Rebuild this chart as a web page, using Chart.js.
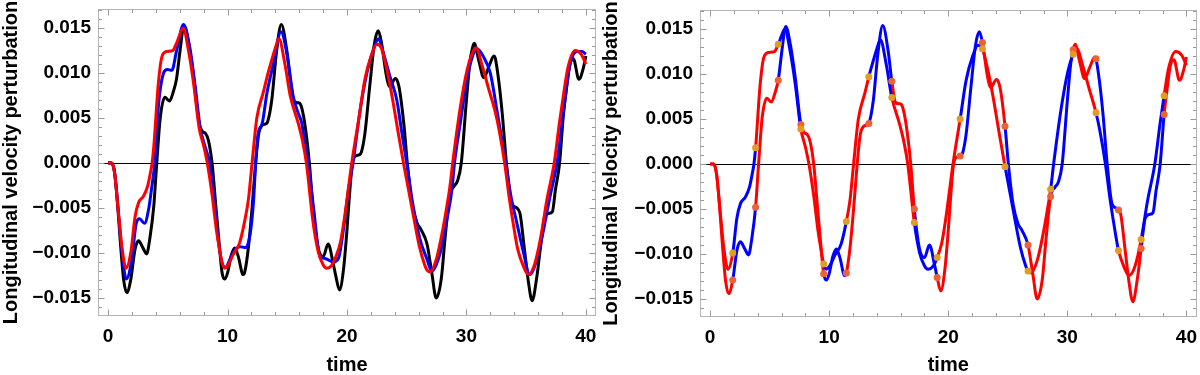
<!DOCTYPE html>
<html><head><meta charset="utf-8">
<script src="https://cdn.jsdelivr.net/npm/chart.js@4.4.1/dist/chart.umd.min.js"></script>
<style>
html,body{margin:0;padding:0;background:#fff;}
#wrap{position:relative;width:1200px;height:375px;overflow:hidden;}
canvas{position:absolute;top:0;}
</style></head><body>
<div id="wrap">
<canvas id="c1" width="600" height="375" style="left:0px"></canvas>
<canvas id="c2" width="600" height="375" style="left:600px"></canvas>
</div>
<script>
// ---------- data ----------
const tBlack = [0,0.3,0.55,0.8,1.05,1.3,1.56,1.9,2.25,2.55,2.9,3.22,3.5,3.82,4.07,4.36,4.75,5.15,5.45,5.72,6.03,6.35,6.75,7.15,7.62,7.9,8.15,8.4,8.7,9.0,9.3,9.54,9.75,10.0,10.3,10.6,10.9,11.3,11.44,11.75,12.05,12.35,12.6,12.9,13.2,13.33,13.7,14.1,14.5,14.95,15.26,15.6,15.95,16.15,16.45,16.85,17.15,17.6,18.0,18.42,18.85,19.07,19.37,19.7,20.0,20.2,20.45,20.75,21.0,21.2,21.5,21.9,22.3,22.62,22.87,23.3,23.57,24.05,24.35,24.77,25.05,25.45,25.85,26.2,26.7,27.1,27.47,27.9,28.2,28.6,28.95,29.25,29.57,30.0,30.3,30.49,30.65,31.05,31.45,31.9,32.3,32.41,32.7,33.0,33.35,33.75,34.1,34.3,34.5,34.85,35.2,35.5,35.9,36.2,36.55,36.9,37.2,37.45,37.8,38.13,38.35,38.65,38.95,39.42,39.8,40.0];
const vBlack = [0,0,-0.0012,-0.0048,-0.0093,-0.0130,-0.0144,-0.0129,-0.0096,-0.00865,-0.0094,-0.0101,-0.0083,-0.0048,0,0.0050,0.0073,0.0069,0.0079,0.0093,0.0126,0.0153,0.0132,0.0096,0.0044,0.0035,0.0033,0.0025,0,-0.0045,-0.0090,-0.0122,-0.0129,-0.0122,-0.0103,-0.00945,-0.0104,-0.0124,-0.0121,-0.0093,-0.0050,0,0.0032,0.0042,0.00435,0.0045,0.0070,0.0124,0.0154,0.0126,0.0092,0.0068,0.0067,0.0064,0.0045,0,-0.0050,-0.0095,-0.0104,-0.0090,-0.0112,-0.0126,-0.0141,-0.0119,-0.0074,-0.0037,0,0.0008,0.0009,0.0012,0.0033,0.0085,0.0133,0.0147,0.0135,0.0097,0.0085,0.0094,0.0085,0.0042,0,-0.0045,-0.0066,-0.0074,-0.0090,-0.0122,-0.0150,-0.0128,-0.0085,-0.0036,-0.0026,-0.0020,0,0.0070,0.0113,0.0127,0.0133,0.0113,0.0095,0.0108,0.0119,0.0117,0.0092,0.0055,0,-0.0044,-0.0049,-0.0051,-0.0057,-0.0095,-0.0133,-0.0153,-0.0126,-0.0094,-0.0060,-0.0056,-0.0054,-0.0030,0,0.0055,0.0080,0.0109,0.0116,0.0093,0.0106,0.0119];

const tBlue = [0,0.3,0.55,0.85,1.15,1.52,1.98,2.35,2.63,3.05,3.38,3.66,3.9,4.22,4.64,4.95,5.33,5.75,6.31,6.87,7.29,7.71,8.1,8.5,8.9,9.3,9.8,10.3,10.64,11.06,11.5,11.9,12.18,12.35,12.55,12.9,13.3,13.85,14.47,15.0,15.48,15.9,16.2,16.5,16.75,17.2,17.74,18.15,18.86,19.28,19.7,20.12,20.5,21.1,21.66,22.2,22.64,23.05,23.6,24.17,24.6,25.0,25.5,26.12,26.7,27.1,27.8,28.36,28.78,29.0,29.48,30.04,30.6,30.88,31.43,32.0,32.55,33.1,33.3,33.7,34.23,34.79,35.29,35.9,36.46,37.0,37.58,38.14,38.7,39.26,39.68,40.0];
const vBlue = [0,0,-0.0011,-0.0053,-0.0098,-0.0129,-0.0107,-0.0067,-0.0062,-0.0067,-0.0052,-0.0026,0,0.0065,0.0100,0.0104,0.0103,0.0126,0.0154,0.0126,0.0085,0.0039,0.0019,0,-0.0043,-0.0094,-0.0116,-0.0104,-0.0096,-0.0093,-0.0094,-0.0078,-0.0041,0,0.0032,0.0044,0.0078,0.0111,0.0146,0.0119,0.0075,0.0056,0.0045,0.0020,0,-0.0050,-0.0104,-0.0106,-0.0110,-0.0106,-0.0074,-0.0030,0,0.0059,0.0100,0.0126,0.0138,0.0122,0.0096,0.0070,0.0033,0,-0.0045,-0.0085,-0.0107,-0.0120,-0.0100,-0.0063,-0.0030,0,0.0044,0.0093,0.0122,0.0127,0.0118,0.0100,0.0059,0.0015,0,-0.0035,-0.0067,-0.0100,-0.0124,-0.0107,-0.0074,-0.0037,0,0.0059,0.0111,0.0124,0.0124,0.0121];

const tRed = [0,0.3,0.55,0.85,1.15,1.5,1.9,2.25,2.55,2.95,3.3,3.55,3.68,3.82,4.2,4.5,4.9,5.4,5.72,5.95,6.28,6.7,7.15,7.62,8.0,8.3,8.7,9.05,9.35,9.54,9.75,10.0,10.5,11.0,11.44,11.75,12.05,12.45,13.0,13.33,13.6,14.0,14.3,14.8,15.26,15.9,16.3,16.6,17.15,17.6,18.0,18.3,18.7,19.07,19.45,19.8,20.1,20.4,21.0,21.5,22.05,22.5,22.87,23.3,23.8,24.27,24.77,25.1,25.55,26.05,26.5,26.7,26.95,27.5,28.05,28.4,28.6,28.85,29.5,30.05,30.49,30.8,31.3,31.85,32.41,32.75,33.2,33.6,34.0,34.3,34.75,35.18,35.7,36.2,36.75,37.35,37.8,38.13,38.5,39.1,39.6,40.0];
const vRed = [0,0,-0.0012,-0.0054,-0.0093,-0.0117,-0.0099,-0.0060,-0.0044,-0.0037,-0.0026,-0.0010,0,0.0018,0.0088,0.0118,0.0124,0.0125,0.0133,0.0141,0.0150,0.0127,0.0089,0.0039,0.0019,0,-0.0035,-0.0073,-0.0098,-0.0111,-0.0117,-0.0114,-0.0101,-0.0089,-0.0064,-0.0040,0,0.0050,0.0079,0.0097,0.0110,0.0128,0.0138,0.0110,0.0074,0.0045,0.0023,0,-0.0065,-0.0099,-0.0113,-0.0117,-0.0114,-0.0104,-0.0088,-0.0060,-0.0030,0,0.0050,0.0093,0.0120,0.0132,0.0128,0.0106,0.0072,0.0035,-0.0003,-0.0026,-0.0058,-0.0092,-0.0113,-0.0119,-0.0121,-0.0106,-0.0072,-0.0045,-0.0028,0,0.0063,0.0103,0.0122,0.0128,0.0109,0.0083,0.0057,0.0036,0,-0.0040,-0.0074,-0.0096,-0.0114,-0.0124,-0.0113,-0.0084,-0.0040,0,0.0046,0.0076,0.0106,0.0125,0.0121,0.0110];

// times where the right-hand curves change colour (marked by dots)
const switchTimes = [1.9,3.82,5.72,7.62,9.54,11.44,13.33,15.26,17.15,19.07,21.0,22.87,24.77,26.7,28.6,30.49,32.41,34.3,36.2,38.13];

// tick marks / labels
const xMajor = [0,10,20,30,40];
const xMinor = [2,4,6,8,12,14,16,18,22,24,26,28,32,34,36,38];
const yMajor = [-0.015,-0.010,-0.005,0,0.005,0.010,0.015];
const yMinor = [-0.016,-0.014,-0.013,-0.012,-0.011,-0.009,-0.008,-0.007,-0.006,-0.004,-0.003,-0.002,-0.001,0.001,0.002,0.003,0.004,0.006,0.007,0.008,0.009,0.011,0.012,0.013,0.014,0.016,0.017];

// ---------- helpers ----------
const pts = (ts, vs) => ts.map((t, i) => ({x: t, y: vs[i]}));
const dotPts = (ts, vs) => switchTimes.map(s => { const i = ts.findIndex(t => Math.abs(t - s) < 1e-6); return {x: ts[i], y: vs[i]}; });
const FONT = "'Liberation Sans', Arial, sans-serif";
Chart.defaults.font.family = FONT;
Chart.defaults.color = '#000';

const fmtY = v => { if (Math.abs(v) < 1e-12) return '0.000'; return (v < 0 ? '\u2212' : '') + Math.abs(v).toFixed(3); };

const framePlugin = {
  id: 'frame',
  beforeDatasetsDraw(chart) {
    const {ctx, chartArea: a, scales: {x, y}} = chart;
    ctx.save();
    const L = Math.round(a.left) + 0.5, R = Math.round(a.right) - 0.5, T = Math.round(a.top) + 0.5, B = Math.round(a.bottom) - 0.5;
    ctx.strokeStyle = '#b4b4b4'; ctx.lineWidth = 1;
    ctx.strokeRect(L, T, R - L, B - T);
    ctx.strokeStyle = '#9a9a9a';
    ctx.beginPath();
    const xt = (v, len) => { const p = Math.round(x.getPixelForValue(v)) + 0.5; ctx.moveTo(p, B); ctx.lineTo(p, B - len); ctx.moveTo(p, T); ctx.lineTo(p, T + len); };
    const yt = (v, len) => { const p = Math.round(y.getPixelForValue(v)) + 0.5; ctx.moveTo(L, p); ctx.lineTo(L + len, p); ctx.moveTo(R, p); ctx.lineTo(R - len, p); };
    xMajor.forEach(v => xt(v, 6)); xMinor.forEach(v => xt(v, 3.5));
    yMajor.forEach(v => yt(v, 6)); yMinor.forEach(v => yt(v, 3.5));
    ctx.stroke();
    ctx.restore();
  }
};

function makeOptions(yTitle, yWidth, xHeight, padTop, padRight) {
  return {
    responsive: false, animation: false, devicePixelRatio: 1,
    layout: {padding: {top: padTop, right: padRight, left: 0, bottom: 0}},
    plugins: {legend: {display: false}, tooltip: {enabled: false}},
    elements: {point: {radius: 0}},
    scales: {
      x: {
        type: 'linear', min: -0.85, max: 40.85,
        afterBuildTicks: s => { s.ticks = xMajor.map(v => ({value: v})); },
        afterFit: s => { s.height = xHeight; s.paddingLeft = 0; s.paddingRight = 0; s.paddingTop = 0; s.paddingBottom = 0; },
        ticks: {callback: v => String(v), font: {size: 19, weight: 'bold'}, color: '#000', padding: 9, maxRotation: 0, autoSkip: false},
        grid: {display: false, drawTicks: false},
        border: {display: false},
        title: {display: true, text: 'time', font: {size: 20, weight: 'bold', lineHeight: 1}, color: '#000', padding: {top: 0, bottom: 0}}
      },
      y: {
        type: 'linear', min: -0.0170, max: 0.01712,
        afterBuildTicks: s => { s.ticks = yMajor.map(v => ({value: v})); },
        afterFit: s => { s.width = yWidth; s.paddingTop = 0; s.paddingBottom = 0; s.paddingLeft = 0; s.paddingRight = 0; },
        ticks: {callback: v => fmtY(v), font: {size: 19, weight: 'bold'}, color: '#000', padding: 7, autoSkip: false},
        grid: {drawTicks: false, lineWidth: 1, color: c => (c.tick && Math.abs(c.tick.value) < 1e-12) ? '#000' : 'rgba(0,0,0,0)'},
        border: {display: false},
        title: {display: true, text: yTitle, font: {size: 20, weight: 'bold', lineHeight: 1}, color: '#000', padding: {top: 1, bottom: 0}}
      }
    }
  };
}

const lineDs = (data, color, order, extra) => Object.assign({
  data, borderColor: color, borderWidth: 3, pointRadius: 0, fill: false,
  cubicInterpolationMode: 'monotone', order
}, extra || {});

// ---------- left chart ----------
new Chart(document.getElementById('c1'), {
  type: 'line',
  data: {datasets: [
    lineDs(pts(tRed, vRed), 'rgb(255,0,0)', 1),
    lineDs(pts(tBlue, vBlue), 'rgb(0,0,255)', 2),
    lineDs(pts(tBlack, vBlack), 'rgb(0,0,0)', 3)
  ]},
  options: makeOptions('Longitudinal velocity perturbation', 98, 59, 9, 4),
  plugins: [framePlugin]
});

// ---------- right chart ----------
const segColor = c => {
  const x0 = c.p0.parsed.x;
  let n = 0;
  for (const s of switchTimes) if (x0 >= s - 1e-9) n++;
  return n % 2 === 0 ? 'rgb(255,0,0)' : 'rgb(0,0,255)';
};
const dotDs = (data, color) => ({
  data, showLine: false, pointRadius: 3.5, pointHoverRadius: 3.5,
  pointBackgroundColor: color, pointBorderWidth: 0, borderColor: color, order: 0
});

new Chart(document.getElementById('c2'), {
  type: 'line',
  data: {datasets: [
    dotDs(dotPts(tRed, vRed), 'rgb(225,156,36)'),
    dotDs(dotPts(tBlack, vBlack), 'rgb(235,98,53)'),
    lineDs(pts(tRed, vRed), 'rgb(255,0,0)', 1, {segment: {borderColor: segColor}}),
    lineDs(pts(tBlack, vBlack), 'rgb(255,0,0)', 2, {segment: {borderColor: segColor}})
  ]},
  options: makeOptions('Longitudinal Velocity perturbation', 100, 58, 10, 2),
  plugins: [framePlugin]
});
</script>
</body></html>
